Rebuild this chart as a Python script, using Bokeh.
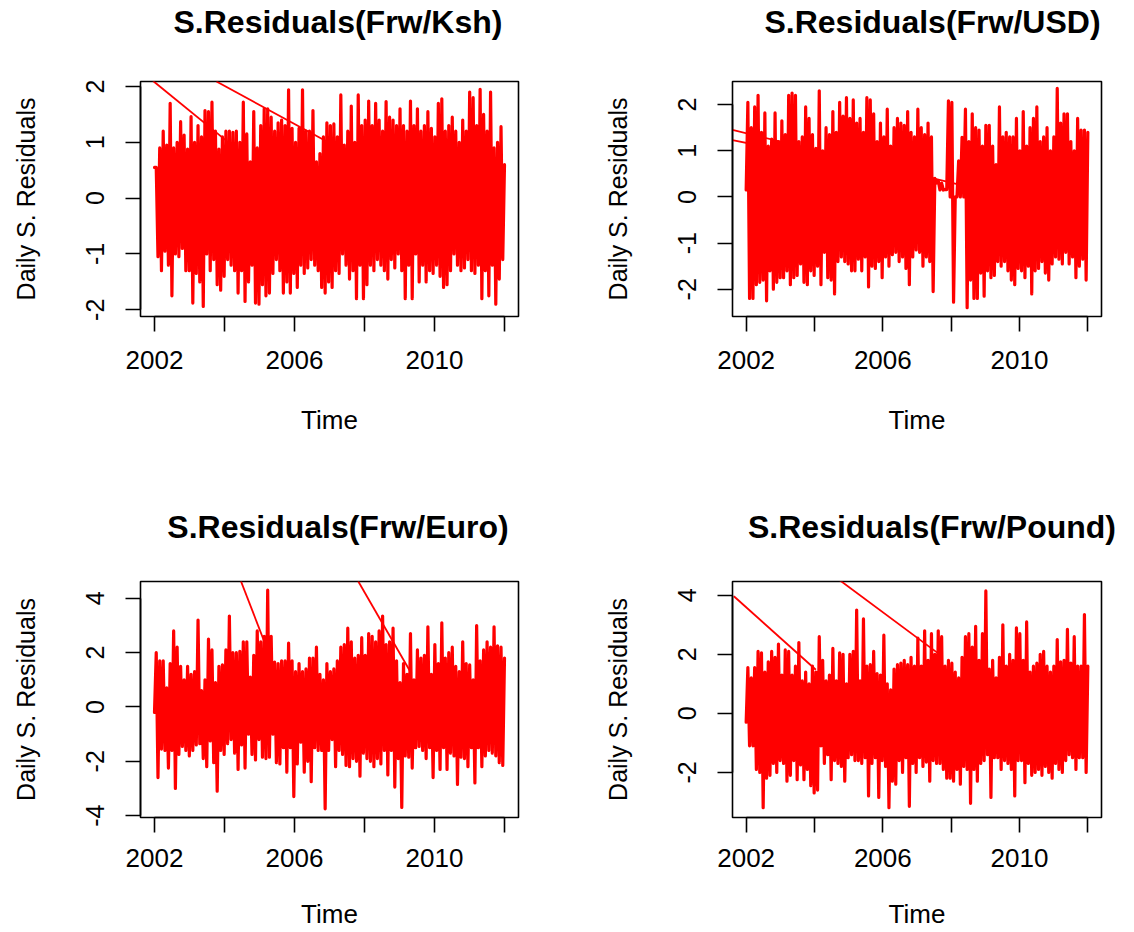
import numpy as np
from bokeh.plotting import figure
from bokeh.layouts import column, row
from bokeh.models import FixedTicker, Range1d
from bokeh.core.properties import value
from bokeh.embed import file_html
from bokeh.resources import INLINE

# ---------------- data ----------------
year_ticks = [2002, 2004, 2006, 2008, 2010, 2012]
year_labels = {2002: "2002", 2004: "", 2006: "2006", 2008: "", 2010: "2010", 2012: ""}

# Frw/Ksh : alternating local highs / lows (0.1 year slots 2002..2012)
ksh_start, ksh_end = 0.55, 0.6
ksh_hi = [0.55, 0.9, 1.2, 0.95, 1.7, 0.9, 1.0, 1.37, 1.13, 0.88,
          1.46, 1.0, 1.3, 1.1, 1.57, 1.55, 1.72, 1.2, 0.88, 1.1,
          1.2, 1.2, 1.18, 1.2, 1.0, 1.72, 1.15, 0.65, 1.55, 0.9,
          1.3, 1.6, 1.6, 1.45, 1.2, 1.35, 1.4, 1.3, 1.94, 1.25,
          1.0, 1.25, 1.94, 1.2, 1.2, 1.57, 0.65, 0.8, 1.1, 1.35,
          1.3, 1.33, 1.1, 1.85, 0.95, 1.2, 1.65, 1.0, 1.85, 1.3,
          1.4, 1.74, 1.3, 1.7, 1.4, 1.2, 1.73, 1.45, 1.4, 1.3,
          1.6, 1.3, 1.2, 1.74, 1.3, 1.6, 1.2, 1.3, 1.55, 1.25,
          1.1, 1.7, 1.78, 1.2, 1.3, 1.45, 1.2, 1.0, 1.4, 1.2,
          1.9, 1.8, 1.3, 1.95, 1.5, 1.2, 1.9, 0.9, 1.0, 1.28]
ksh_lo = [-1.05, -1.3, -0.95, -1.2, -1.75, -1.0, -1.05, -0.9, -1.3, -1.3,
          -1.88, -1.35, -1.5, -1.94, -1.0, -1.3, -1.1, -1.55, -1.65, -1.4,
          -1.1, -1.2, -1.3, -1.7, -1.3, -1.85, -1.5, -1.2, -1.88, -1.9,
          -1.55, -1.75, -1.7, -1.35, -1.1, -1.3, -1.7, -1.5, -1.7, -1.35,
          -1.6, -1.2, -1.35, -1.25, -1.1, -1.2, -1.3, -1.6, -1.7, -1.5,
          -1.6, -1.3, -1.35, -1.0, -1.2, -1.45, -1.3, -1.8, -1.2, -1.8,
          -1.55, -1.2, -1.3, -1.1, -1.2, -1.3, -1.45, -1.1, -1.25, -1.0,
          -1.3, -1.8, -1.2, -1.8, -1.0, -1.5, -1.2, -1.5, -1.3, -1.35,
          -1.2, -1.4, -1.6, -1.55, -1.3, -1.0, -1.2, -1.3, -1.25, -1.1,
          -1.3, -1.35, -1.2, -1.8, -1.3, -1.75, -1.2, -1.9, -1.45, -1.1]
ksh_diag_t = [[2001.96, 2004.05], [2003.77, 2007.41]]
ksh_diag_v = [[2.10, 1.03], [2.09, 0.85]]

# Frw/USD (quiet stretch 2007.5-2008.3)
usd_start, usd_end = 0.15, 1.4
usd_hi = [2.05, 1.5, 1.95, 2.2, 1.4, 1.82, 1.1, 1.25, 1.82, 1.2,
          1.65, 1.35, 2.2, 2.25, 2.2, 1.2, 1.3, 1.95, 1.7, 1.35,
          1.05, 2.3, 1.0, 1.5, 1.35, 1.85, 1.4, 2.05, 1.75, 2.15,
          1.7, 2.1, 1.6, 1.7, 1.4, 2.15, 2.1, 1.8, 1.2, 1.6,
          1.3, 1.9, 1.1, 1.5, 1.7, 1.6, 1.55, 1.85, 1.4, 1.3,
          1.9, 1.5, 1.35, 1.6, 1.3, 0.4, 0.35, 0.3, 0.16, 2.08,
          2.05, 0.0, 0.78, 1.29, 1.9, 1.2, 1.8, 1.5, 1.45, 1.1,
          1.55, 1.55, 1.1, 0.7, 1.95, 1.3, 1.4, 1.3, 1.3, 1.7,
          1.0, 1.85, 1.1, 1.5, 1.7, 1.95, 1.2, 1.3, 1.5, 1.0,
          1.3, 2.35, 1.6, 1.8, 1.8, 1.2, 1.0, 1.7, 1.45, 1.45]
usd_lo = [-2.2, -2.2, -1.9, -1.85, -1.8, -2.25, -1.6, -2.0, -1.85, -1.75,
          -1.75, -1.6, -1.9, -1.75, -1.7, -1.45, -1.85, -1.9, -1.6, -1.7,
          -1.5, -1.9, -1.2, -1.75, -1.8, -2.1, -1.4, -1.3, -1.4, -1.45,
          -1.6, -1.6, -1.35, -1.6, -1.3, -1.95, -1.5, -1.55, -1.4, -1.75,
          -1.3, -1.5, -1.25, -1.2, -1.4, -1.3, -1.55, -1.9, -1.3, -1.15,
          -1.2, -1.5, -1.3, -1.4, -2.05, 0.3, 0.15, 0.15, 0.16, 0.0,
          -2.28, 0.0, 0.0, 0.0, -2.4, -1.8, -2.2, -2.2, -1.65, -2.15,
          -1.6, -1.75, -1.7, -1.4, -1.5, -1.4, -1.6, -1.8, -1.9, -1.55,
          -1.6, -1.75, -1.5, -2.1, -1.6, -1.55, -1.4, -1.65, -1.8, -1.45,
          -1.3, -1.35, -1.45, -1.2, -1.45, -1.3, -1.75, -1.5, -1.35, -1.8]
usd_diag_t = [[2001.6, 2008.51], [2001.6, 2007.48]]
usd_diag_v = [[1.45, 0.22], [1.23, 0.35]]

# Frw/Euro
eur_start, eur_end = -0.2, 1.8
eur_hi = [2.0, 1.7, 1.7, 0.7, 1.6, 2.8, 2.2, 1.5, 1.0, 1.5,
          1.2, 1.3, 3.2, 0.6, 1.0, 2.5, 2.1, 0.9, 1.5, 1.55,
          2.1, 3.35, 2.0, 2.0, 2.05, 2.4, 2.4, 1.1, 1.9, 2.8,
          2.4, 2.6, 4.3, 2.6, 1.65, 1.6, 1.7, 1.7, 2.35, 1.7,
          1.3, 1.6, 1.3, 1.4, 1.8, 1.8, 2.2, 1.2, 1.0, 1.6,
          1.3, 1.4, 1.7, 2.2, 2.3, 2.9, 2.4, 1.8, 1.9, 2.55,
          1.9, 2.7, 2.6, 2.4, 2.8, 3.35, 2.3, 2.4, 2.9, 1.7,
          0.9, 1.6, 1.2, 2.7, 1.0, 2.1, 1.8, 1.9, 2.95, 1.2,
          2.3, 1.6, 3.1, 1.8, 2.0, 2.2, 1.5, 1.3, 2.4, 1.6,
          1.55, 1.0, 3.0, 1.7, 2.1, 2.4, 2.2, 2.95, 2.25, 2.2]
eur_lo = [-2.6, -1.55, -1.6, -2.25, -1.6, -3.0, -1.75, -1.45, -1.6, -1.8,
          -1.6, -1.4, -1.35, -1.9, -2.2, -1.25, -2.05, -3.1, -1.6, -1.75,
          -1.35, -1.2, -1.7, -2.3, -1.4, -2.25, -1.0, -1.75, -1.95, -1.2,
          -1.85, -1.9, -1.85, -1.0, -2.05, -2.1, -1.5, -2.4, -1.5, -3.3,
          -2.1, -1.3, -2.4, -2.0, -2.75, -1.5, -1.6, -1.6, -3.75, -1.6,
          -1.2, -2.2, -1.6, -1.75, -2.15, -2.2, -1.9, -2.0, -2.55, -1.7,
          -1.9, -2.0, -2.2, -1.9, -2.1, -1.6, -2.5, -1.6, -2.95, -1.9,
          -3.7, -1.8, -1.85, -2.25, -1.5, -1.45, -1.6, -1.9, -1.5, -2.6,
          -1.6, -2.3, -1.5, -2.3, -1.7, -1.8, -2.85, -1.85, -1.9, -2.2,
          -1.5, -2.8, -1.5, -2.2, -1.8, -1.6, -1.7, -1.8, -2.05, -2.15]
eur_diag_t = [[2004.47, 2005.38], [2007.82, 2009.34]]
eur_diag_v = [[4.63, 1.6], [4.63, 1.23]]

# Frw/Pound
gbp_start, gbp_end = -0.3, 1.6
gbp_hi = [1.55, 1.2, 1.55, 2.1, 2.05, 1.4, 1.75, 2.1, 1.9, 2.35,
          1.3, 2.15, 2.1, 1.3, 1.6, 2.4, 1.1, 1.4, 1.0, 1.6,
          1.4, 2.6, 1.8, 1.1, 1.3, 2.2, 1.1, 2.05, 2.0, 1.0,
          2.0, 2.1, 3.5, 1.1, 3.2, 1.6, 1.65, 2.1, 1.35, 1.3,
          2.65, 1.0, 0.8, 1.5, 1.65, 1.7, 1.8, 1.65, 1.9, 1.6,
          2.55, 1.6, 2.8, 1.8, 2.7, 2.0, 2.8, 2.6, 1.6, 1.8,
          1.7, 1.4, 1.2, 1.9, 2.6, 2.7, 2.25, 2.95, 1.8, 2.7,
          4.15, 1.5, 1.8, 1.2, 1.9, 3.0, 1.6, 2.0, 1.8, 2.9,
          2.7, 1.8, 3.1, 1.4, 1.6, 1.7, 2.0, 2.1, 1.6, 1.4,
          1.6, 2.5, 1.75, 1.8, 2.85, 1.7, 2.6, 1.6, 1.6, 3.35]
gbp_lo = [-1.1, -1.1, -1.9, -2.0, -3.2, -2.2, -2.1, -1.7, -2.0, -1.6,
          -1.7, -2.3, -2.1, -1.6, -2.25, -1.75, -2.25, -1.9, -2.45, -2.7,
          -2.6, -1.1, -1.7, -1.4, -2.25, -1.6, -1.7, -1.8, -2.3, -1.5,
          -1.4, -1.6, -1.6, -1.7, -1.5, -2.8, -1.7, -1.5, -2.85, -1.6,
          -1.8, -3.2, -2.3, -2.4, -1.6, -2.0, -1.5, -3.15, -1.7, -2.0,
          -1.5, -1.8, -1.65, -2.3, -1.6, -1.7, -1.7, -1.9, -2.2, -2.2,
          -2.3, -1.9, -2.4, -1.8, -1.9, -3.05, -1.9, -2.3, -1.7, -1.6,
          -1.4, -2.85, -1.5, -1.5, -1.9, -1.6, -1.7, -1.9, -2.8, -1.6,
          -1.6, -2.35, -1.7, -2.1, -2.0, -1.9, -2.1, -1.8, -2.0, -2.2,
          -1.7, -1.9, -2.0, -1.6, -1.4, -1.5, -1.9, -1.5, -1.5, -2.0]
gbp_diag_t = [[2001.64, 2004.04], [2004.73, 2007.73]]
gbp_diag_v = [[3.97, 1.48], [4.52, 1.94]]

titles = ["S.Residuals(Frw/Ksh)", "S.Residuals(Frw/USD)",
          "S.Residuals(Frw/Euro)", "S.Residuals(Frw/Pound)"]
y_ranges = [(-2.12, 2.09), (-2.59, 2.50), (-4.07, 4.62), (-3.53, 4.47)]
y_ticks = [[-2, -1, 0, 1, 2], [-2, -1, 0, 1, 2], [-4, -2, 0, 2, 4], [-2, 0, 2, 4]]

FONT = "Liberation Sans"
RED = "#FF0000"
W = 567


def title_strip(text, height, cx, baseline_from_bottom):
    """A thin axis-less figure that only carries the bold main title."""
    t = figure(width=W, height=height, output_backend="svg", toolbar_location=None,
               x_range=Range1d(0, W), y_range=Range1d(0, height),
               x_axis_location=None, y_axis_location=None,
               min_border=0, min_border_left=0, min_border_right=0,
               min_border_top=0, min_border_bottom=0,
               background_fill_color="white", border_fill_color="white")
    t.outline_line_color = None
    t.grid.visible = False
    t.text(x=[cx], y=[baseline_from_bottom], text=[text],
           text_font=value(FONT), text_font_size=value("32px"),
           text_font_style="bold", text_color="black",
           text_align="center", text_baseline="alphabetic")
    return t


def panel(start, hi, lo, end, dt, dv, yr, yt, height,
          bl, br, bt, bb, lab_so, axlab_so):
    vals = [start]
    for h, l in zip(hi, lo):
        vals += [h, l]
    vals.append(end)
    t = np.linspace(2002, 2012, len(vals))

    p = figure(width=W, height=height, output_backend="svg", toolbar_location=None,
               x_range=Range1d(2001.6, 2012.4), y_range=Range1d(*yr),
               min_border_left=bl, min_border_right=br,
               min_border_top=bt, min_border_bottom=bb,
               background_fill_color="white", border_fill_color="white")
    p.line(t, vals, line_color=RED, line_width=3.2, line_join="round", line_cap="round")
    p.multi_line(dt, dv, line_color=RED, line_width=1.8)

    p.grid.visible = False
    p.outline_line_color = "black"
    p.outline_line_width = 1.6
    p.outline_line_alpha = 1.0

    xa = p.xaxis[0]
    xa.ticker = FixedTicker(ticks=year_ticks)
    xa.major_label_overrides = year_labels
    xa.bounds = (year_ticks[0], year_ticks[-1])
    xa.axis_label = "Time"
    ya = p.yaxis[0]
    ya.ticker = FixedTicker(ticks=yt)
    ya.major_label_overrides = {v: str(v) for v in yt}
    ya.bounds = (yt[0], yt[-1])
    ya.axis_label = "Daily S. Residuals"
    ya.major_label_orientation = "vertical"
    for ax in (xa, ya):
        ax.axis_line_color = "black"
        ax.axis_line_width = 1.6
        ax.major_tick_line_color = "black"
        ax.major_tick_line_width = 1.6
        ax.major_tick_out = 15
        ax.major_tick_in = 0
        ax.minor_tick_line_color = None
        ax.major_label_text_font = FONT
        ax.major_label_text_color = "black"
        ax.axis_label_text_font = FONT
        ax.axis_label_text_font_style = "normal"
        ax.axis_label_text_color = "black"
    xa.major_label_text_font_size = "26px"
    xa.axis_label_text_font_size = "26px"
    ya.major_label_text_font_size = "25px"
    ya.axis_label_text_font_size = "25px"
    xa.major_label_standoff = lab_so
    xa.axis_label_standoff = axlab_so
    ya.major_label_standoff = 21
    ya.axis_label_standoff = 44
    return p


# top row: title strip 50 px, plot 416 px (box top at 81)
t1 = title_strip(titles[0], 50, 337.5, 29)
t2 = title_strip(titles[1], 50, 365, 29)
p1 = panel(ksh_start, ksh_hi, ksh_lo, ksh_end, ksh_diag_t, ksh_diag_v,
           y_ranges[0], y_ticks[0], 416, 140, 49, 31, 149, 19, 33)
p2 = panel(usd_start, usd_hi, usd_lo, usd_end, usd_diag_t, usd_diag_v,
           y_ranges[1], y_ticks[1], 416, 165, 33, 31, 150, 19, 33)

# bottom row: title strip 90 px, plot 376 px (box top at 581)
t3 = title_strip(titles[2], 90, 337.5, 30)
t4 = title_strip(titles[3], 90, 364.5, 30)
p3 = panel(eur_start, eur_hi, eur_lo, eur_end, eur_diag_t, eur_diag_v,
           y_ranges[2], y_ticks[2], 376, 140, 49, 25, 115, 16, 29)
p4 = panel(gbp_start, gbp_hi, gbp_lo, gbp_end, gbp_diag_t, gbp_diag_v,
           y_ranges[3], y_ticks[3], 376, 165, 33, 25, 115, 16, 29)

layout = column(row(t1, t2), row(p1, p2), row(t3, t4), row(p3, p4))
open("out.html", "w").write(file_html(layout, INLINE))
